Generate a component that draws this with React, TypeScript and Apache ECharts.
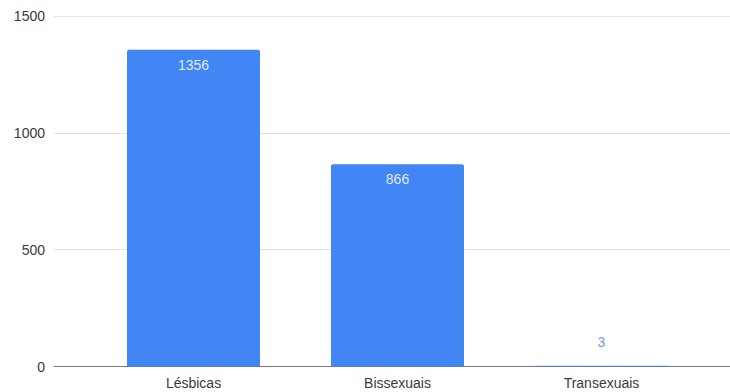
import React, { useEffect, useRef } from "react";
import * as echarts from "echarts";

const categories = ["Lésbicas", "Bissexuais", "Transexuais"];
const values = [1356, 866, 3];
const yTicks = [0, 500, 1000, 1500];

const BLUE = "#4285F4";
const FONT = "Arial, 'Liberation Sans', Helvetica, sans-serif";

export default function App() {
  const ref = useRef<HTMLDivElement>(null);

  useEffect(() => {
    if (!ref.current) return;
    const chart = echarts.init(ref.current, undefined, { renderer: "svg" });
    const yMax = yTicks[yTicks.length - 1];
    const yStep = yTicks[1] - yTicks[0];

    chart.setOption({
      animation: false,
      grid: [
        // full-width grid carrying the value gridlines and the baseline
        { left: 54, right: 0, top: 16, bottom: 25.5, containLabel: false },
        // narrower plot area for the bars themselves
        { left: 91.5, width: 612, top: 16, bottom: 25.5, containLabel: false },
      ],
      xAxis: [
        {
          gridIndex: 0,
          type: "category",
          data: [""],
          axisLine: { show: true, lineStyle: { color: "#7a7a7a", width: 1.2 } },
          axisTick: { show: false },
          axisLabel: { show: false },
        },
        {
          gridIndex: 1,
          type: "category",
          data: categories,
          axisLine: { show: false },
          axisTick: { show: false },
          axisLabel: {
            color: "#3a3a3a",
            fontSize: 14,
            fontFamily: FONT,
            margin: 9,
          },
        },
      ],
      yAxis: [
        {
          gridIndex: 0,
          type: "value",
          min: 0,
          max: yMax,
          interval: yStep,
          axisLine: { show: false },
          axisTick: { show: false },
          axisLabel: {
            color: "#3a3a3a",
            fontSize: 14,
            fontFamily: FONT,
            margin: 9,
            formatter: (v: number) => String(v),
          },
          splitLine: { lineStyle: { color: "#e2e2e2", width: 1 } },
        },
        {
          gridIndex: 1,
          type: "value",
          min: 0,
          max: yMax,
          interval: yStep,
          axisLine: { show: false },
          axisTick: { show: false },
          axisLabel: { show: false },
          splitLine: { show: false },
        },
      ],
      series: [
        {
          type: "bar",
          xAxisIndex: 1,
          yAxisIndex: 1,
          data: values.map((v) => ({
            value: v,
            label:
              v < 100
                ? {
                    position: "top",
                    distance: 17,
                    color: "#6f9ff0",
                  }
                : undefined,
          })),
          barWidth: 133,
          itemStyle: { color: BLUE, borderRadius: [2, 2, 0, 0] },
          label: {
            show: true,
            position: "insideTop",
            distance: 8,
            color: "rgba(255,255,255,0.85)",
            fontSize: 14,
            fontFamily: FONT,
          },
        },
      ],
    });

    return () => chart.dispose();
  }, []);

  return (
    <div
      ref={ref}
      style={{ position: "absolute", left: 0, top: 0, width: 730, height: 392 }}
    />
  );
}
